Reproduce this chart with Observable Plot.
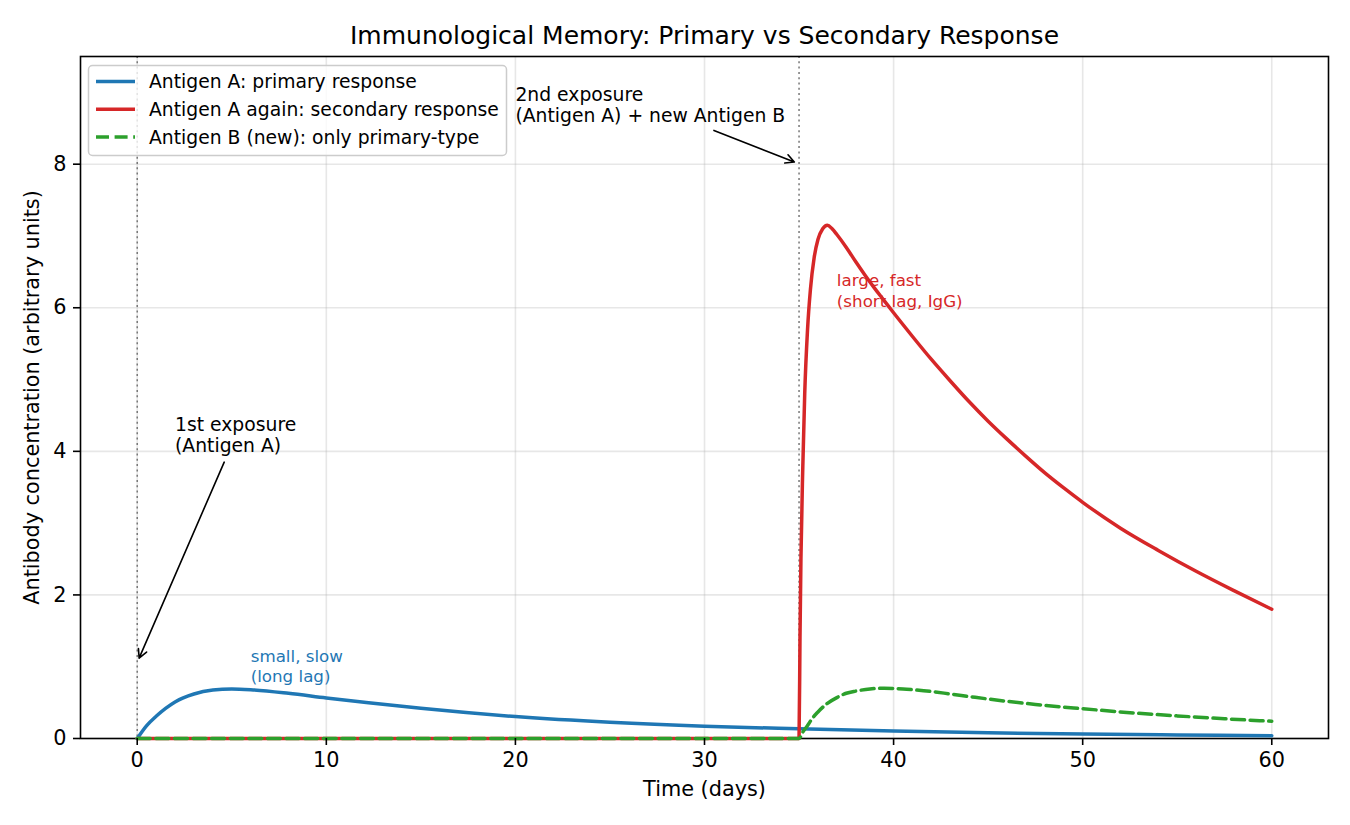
<!DOCTYPE html>
<html>
<head>
<meta charset="utf-8">
<script src="https://cdn.jsdelivr.net/npm/d3@7"></script>
<script src="https://cdn.jsdelivr.net/npm/@observablehq/plot@0.6"></script>
<style>
  body { margin: 0; background: #fff; }
  #chart svg { display: block; }
</style>
</head>
<body>
<div id="chart"></div>
<script>
// ---- Data ----
const chartTitle = "Immunological Memory: Primary vs Secondary Response";
const xLabel = "Time (days)";
const yLabel = "Antibody concentration (arbitrary units)";
const xTicks = [0, 10, 20, 30, 40, 50, 60];
const yTicks = [0, 2, 4, 6, 8];
const exposureDays = [0, 35];

const seriesNames = [
  "Antigen A: primary response",
  "Antigen A again: secondary response",
  "Antigen B (new): only primary-type"
];
const seriesColors = ["#1f77b4", "#d62728", "#2ca02c"];

const primaryDays = [0, 0.5, 1, 1.5, 2, 3, 4, 5, 6, 8, 10, 12, 15, 20, 25, 30, 35, 40, 45, 50, 55, 60];
const primaryA    = [0, 0.18, 0.31, 0.42, 0.51, 0.62, 0.675, 0.69, 0.68, 0.63, 0.565, 0.505, 0.42, 0.305, 0.225, 0.17, 0.135, 0.105, 0.08, 0.062, 0.05, 0.04];

const secondaryDays = [0, 35, 35.05, 35.1, 35.2, 35.3, 35.45, 35.6, 35.8, 36, 36.25, 36.5, 36.75, 37, 37.5, 38, 38.5, 39, 39.5, 40, 41, 42, 43, 44, 45, 46, 47, 48, 49, 50, 52, 54, 56, 58, 60];
const secondaryA    = [0, 0, 1.4, 2.5, 3.8, 4.8, 5.7, 6.25, 6.7, 6.95, 7.1, 7.15, 7.1, 7.02, 6.84, 6.64, 6.45, 6.27, 6.1, 5.93, 5.6, 5.28, 4.98, 4.69, 4.42, 4.17, 3.93, 3.7, 3.49, 3.29, 2.93, 2.62, 2.33, 2.06, 1.80];

const newBDays = [0, 35, 35.2, 35.45, 35.7, 36, 36.5, 37, 37.5, 38, 38.75, 39.5, 40.5, 41, 42, 43, 44, 45, 47.5, 50, 52.5, 55, 57.5, 60];
const newB     = [0, 0, 0.09, 0.18, 0.28, 0.37, 0.49, 0.57, 0.63, 0.66, 0.69, 0.70, 0.69, 0.68, 0.655, 0.62, 0.585, 0.55, 0.475, 0.415, 0.36, 0.315, 0.275, 0.24];

// annotations
const noteTexts  = ["1st exposure\n(Antigen A)", "2nd exposure\n(Antigen A) + new Antigen B"];
const noteX      = [2, 20];
const noteY      = [4.5, 9.1];
const arrowFromX = [4.6, 30.5];
const arrowFromY = [3.85, 8.47];
const arrowToX   = [0.1, 34.75];
const arrowToY   = [1.12, 8.03];

const tagTexts  = ["small, slow\n(long lag)", "large, fast\n(short lag, IgG)"];
const tagX      = [6, 37];
const tagY      = [1.27, 6.5];
const tagColors = ["#1f77b4", "#d62728"];

// ---- Build tables ----
const primary = primaryDays.map((d, i) => ({day: d, value: primaryA[i]}));
const secondary = secondaryDays.map((d, i) => ({day: d, value: secondaryA[i]}));
const antigenB = newBDays.map((d, i) => ({day: d, value: newB[i]}));
const notes = noteTexts.map((t, i) => ({text: t, x: noteX[i], y: noteY[i]}));
const arrows = arrowFromX.map((x, i) => ({x1: x, y1: arrowFromY[i], x2: arrowToX[i], y2: arrowToY[i]}));
const tags = tagTexts.map((t, i) => ({text: t, x: tagX[i], y: tagY[i], color: tagColors[i]}));

const W = 1350, H = 825;
const mL = 80, mR = 22, mT = 56, mB = 87;
const lw = 3.5;
const dash = "13,5.6";

const plot = Plot.plot({
  width: W,
  height: H,
  marginLeft: mL,
  marginRight: mR,
  marginTop: mT,
  marginBottom: mB,
  style: {fontFamily: "DejaVu Sans", fontSize: "20.8px", background: "white", color: "black"},
  x: {domain: [-3, 63]},
  y: {domain: [0, 9.5]},
  marks: [
    Plot.gridX(xTicks, {stroke: "#b0b0b0", strokeOpacity: 0.3, strokeWidth: 1.6}),
    Plot.gridY(yTicks, {stroke: "#b0b0b0", strokeOpacity: 0.3, strokeWidth: 1.6}),
    Plot.ruleX(exposureDays, {stroke: "#777", strokeWidth: 1.5, strokeDasharray: "2,3.3"}),
    Plot.frame({stroke: "black", strokeWidth: 1.6}),
    Plot.line(primary, {x: "day", y: "value", stroke: seriesColors[0], strokeWidth: lw, curve: "monotone-x"}),
    Plot.line(secondary, {x: "day", y: "value", stroke: seriesColors[1], strokeWidth: lw, curve: "monotone-x"}),
    Plot.line(antigenB, {x: "day", y: "value", stroke: seriesColors[2], strokeWidth: lw, strokeDasharray: dash, curve: "monotone-x"}),
    Plot.arrow(arrows, {x1: "x1", y1: "y1", x2: "x2", y2: "y2", stroke: "black", strokeWidth: 1.6, headLength: 9, headAngle: 55}),
    Plot.text(notes, {x: "x", y: "y", text: "text", textAnchor: "start", lineAnchor: "top", fontSize: 18.75, lineHeight: 1.15, fill: "black"}),
    Plot.text(tags, {x: "x", y: "y", text: "text", textAnchor: "start", lineAnchor: "top", fontSize: 16.7, lineHeight: 1.22, fill: "color"}),
    Plot.axisX({ticks: xTicks, tickSize: 7, tickPadding: 7, tickFormat: d => String(d), label: null, strokeWidth: 1.6}),
    Plot.axisY({ticks: yTicks, tickSize: 7, tickPadding: 7, tickFormat: d => String(d), label: null, strokeWidth: 1.6}),
    Plot.text([xLabel], {frameAnchor: "bottom", dy: 51, textAnchor: "middle", lineAnchor: "middle", fontSize: 20.8}),
    Plot.text([yLabel], {frameAnchor: "left", dx: -48, rotate: -90, textAnchor: "middle", lineAnchor: "middle", fontSize: 20.8}),
    Plot.text([chartTitle], {frameAnchor: "top", dy: -21, textAnchor: "middle", lineAnchor: "middle", fontSize: 25})
  ]
});

document.getElementById("chart").appendChild(plot);

// ---- Legend (upper left, inside axes) ----
const svg = d3.select(plot);
const lg = svg.append("g").attr("class", "legend");
lg.append("rect")
  .attr("x", 88.5).attr("y", 65.5).attr("width", 418).attr("height", 90)
  .attr("rx", 4).attr("ry", 4)
  .attr("fill", "white").attr("fill-opacity", 0.8)
  .attr("stroke", "#cccccc").attr("stroke-width", 1.5);
seriesNames.forEach((name, i) => {
  const y = 81.5 + i * 27.8;
  lg.append("line")
    .attr("x1", 96).attr("x2", 135).attr("y1", y).attr("y2", y)
    .attr("stroke", seriesColors[i]).attr("stroke-width", lw)
    .attr("stroke-dasharray", i === 2 ? dash : null);
  lg.append("text")
    .attr("x", 149).attr("y", y).attr("dy", "0.35em")
    .attr("text-anchor", "start")
    .attr("font-size", 18.75).attr("font-family", "DejaVu Sans").attr("fill", "black")
    .text(name);
});
</script>
</body>
</html>
